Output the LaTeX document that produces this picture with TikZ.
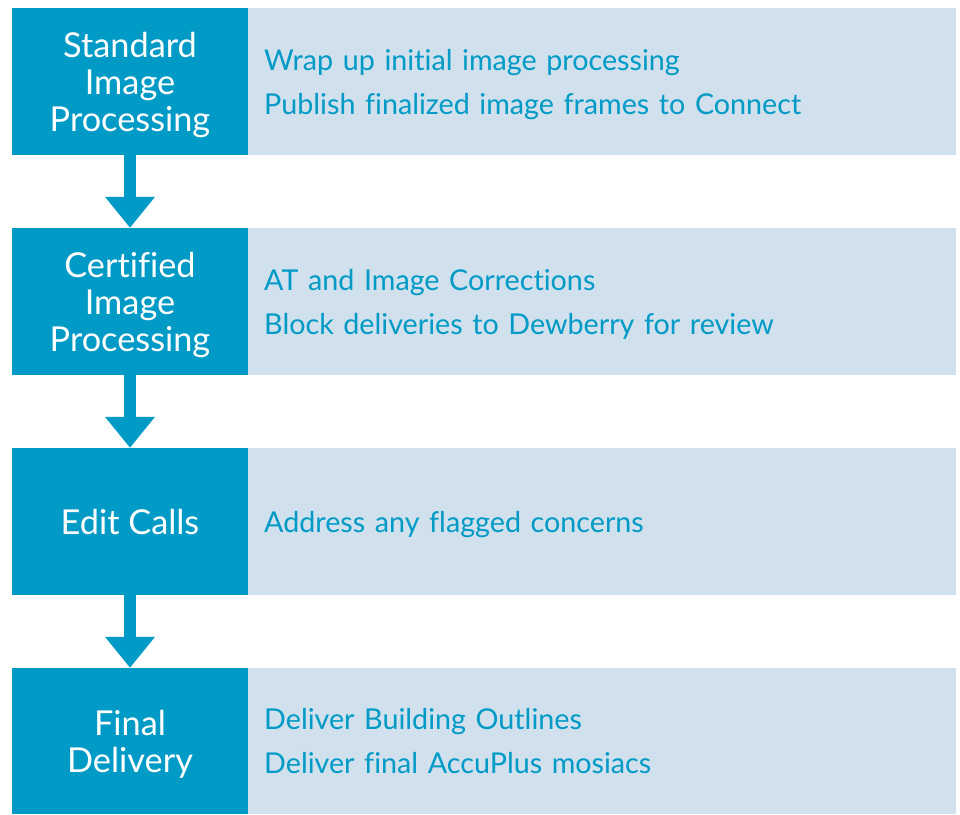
\documentclass[tikz,border=0pt]{standalone}
\usepackage{fontspec}
\setmainfont{Lato}[Ligatures=NoCommon]
\usetikzlibrary{arrows.meta}
\definecolor{dk}{RGB}{0,154,199}
\definecolor{lt}{RGB}{208,224,236}
\tikzset{
  stagebox/.style={fill=dk, text=white, minimum width=236pt, minimum height=147pt,
    inner sep=0pt, align=center, text depth=0pt, font=\fontsize{34.3}{37}\selectfont},
  infobox/.style={fill=lt, text=dk, anchor=west, minimum width=708pt, minimum height=147pt,
    inner xsep=16pt, inner ysep=0pt, text width=676pt, align=left, text depth=44pt,
    font=\fontsize{28.7}{44}\selectfont},
  flow/.style={dk, line width=12pt, -{Triangle[width=48pt,length=31pt]}}
}
\begin{document}
\begin{tikzpicture}[x=1pt,y=-1pt]
\useasboundingbox (0,0) rectangle (960,814);
\node[stagebox] (s1) at (130,81.5) {Standard\\Image\\Processing};
\node[infobox] (d1) at (248,81.5) {Wrap up initial image processing\\Publish finalized image frames to Connect};
\node[stagebox] (s2) at (130,301.5) {Certified\\Image\\Processing};
\node[infobox] (d2) at (248,301.5) {AT and Image Corrections\\Block deliveries to Dewberry for review};
\node[stagebox] (s3) at (130,521.5) {Edit Calls};
\node[infobox, text depth=0pt] (d3) at (248,521.5) {Address any flagged concerns};
\node[stagebox, minimum height=146pt] (s4) at (130,741) {Final\\Delivery};
\node[infobox, minimum height=146pt] (d4) at (248,741) {Deliver Building Outlines\\Deliver final AccuPlus mosiacs};
\draw[flow] (s1.south) -- (s2.north);
\draw[flow] (s2.south) -- (s3.north);
\draw[flow] (s3.south) -- (s4.north);
\end{tikzpicture}
\end{document}
